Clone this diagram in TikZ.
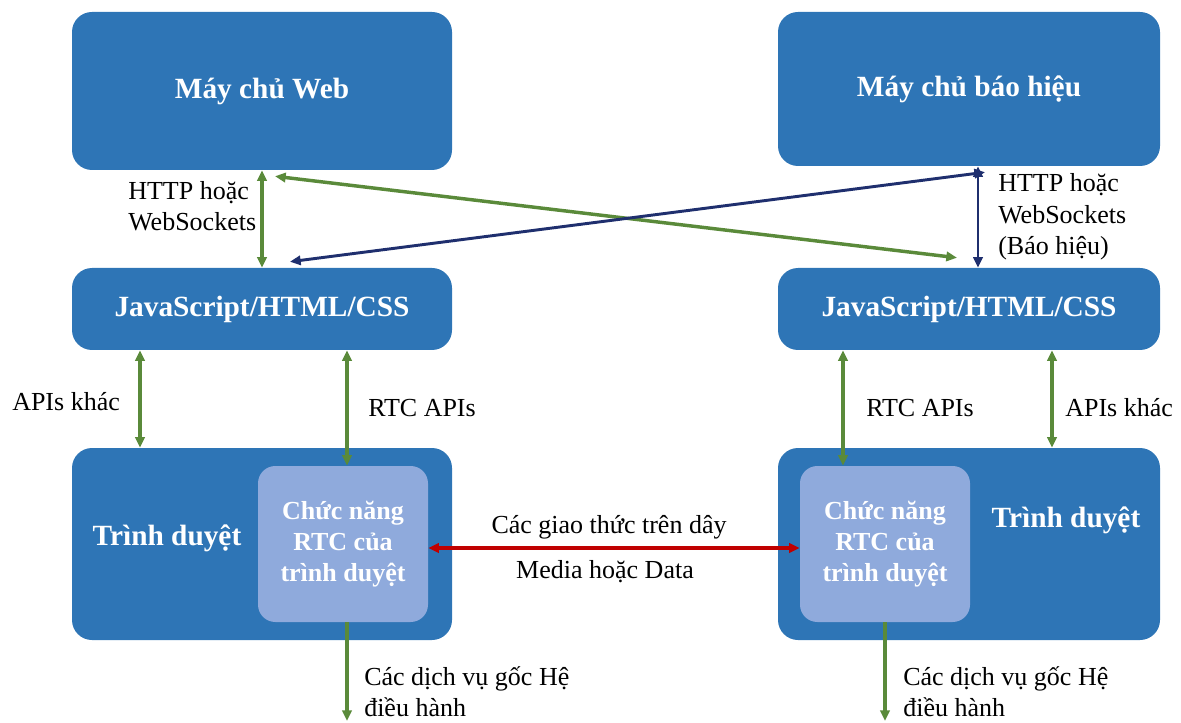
\documentclass[tikz,border=0pt]{standalone}
\usepackage{fontspec}
\setmainfont{Liberation Serif}
\usepackage{xcolor}
\usetikzlibrary{arrows.meta,positioning}
\definecolor{boxblue}{HTML}{2E75B6}
\definecolor{rtcblue}{HTML}{8FAADC}
\definecolor{arrgreen}{HTML}{5A8A3A}
\definecolor{arrnavy}{HTML}{1F2F6E}
\definecolor{arrred}{HTML}{C00000}
\begin{document}
\begin{tikzpicture}[x=0.75pt,y=-0.75pt,>=Triangle,
  box/.style={fill=boxblue,rounded corners=15pt,minimum width=285pt,text=white,font=\fontsize{22}{26}\selectfont\bfseries},
  rtc/.style={fill=rtcblue,rounded corners=13pt,minimum width=127.5pt,minimum height=117pt,align=center,text=white,font=\fontsize{19.5}{23}\selectfont\bfseries},
  ttl/.style={text=white,font=\fontsize{22}{26}\selectfont\bfseries},
  lbl/.style={inner sep=0pt,align=left,font=\fontsize{19.5}{23.5}\selectfont},
  garr/.style={{Triangle[length=8pt,width=7pt]}-{Triangle[length=8pt,width=7pt]},line width=2.6pt,draw=arrgreen},
  narr/.style={{Triangle[length=8pt,width=7pt]}-{Triangle[length=8pt,width=7pt]},line width=2.2pt,draw=arrnavy},
  rarr/.style={{Triangle[length=8pt,width=7pt]}-{Triangle[length=8pt,width=7pt]},line width=2.6pt,draw=arrred},
  darr/.style={-{Triangle[length=8pt,width=7pt]},line width=2.6pt,draw=arrgreen}]
\useasboundingbox (0,0) rectangle (1181,723);
% servers
\node[box,minimum height=118.5pt] (web) at (262,91) {Máy chủ Web};
\node[box,minimum width=286.5pt,minimum height=115.5pt] (sig) at (969,89) {Máy chủ báo hiệu};
% page code
\node[box,minimum height=61.5pt] (jsL) at (262,309) {JavaScript/HTML/CSS};
\node[box,minimum width=286.5pt,minimum height=61.5pt] (jsR) at (969,309) {JavaScript/HTML/CSS};
% browsers
\node[box,minimum height=144pt] (brL) at (262,544) {};
\node[box,minimum width=286.5pt,minimum height=144pt] (brR) at (969,544) {};
\node[ttl] (brLt) at (167,538) {Trình duyệt};
\node[ttl] (brRt) at (1066,520) {Trình duyệt};
\node[rtc] (inL) at (343,544) {Chức năng\\RTC của\\trình duyệt};
\node[rtc] (inR) at (885,544) {Chức năng\\RTC của\\trình duyệt};
\coordinate (osL) at (347,721);
\coordinate (osR) at (885,721);
% connectors
\draw[garr] (web.south) -- (jsL.north);
\draw[garr] ([xshift=9.75pt,yshift=-4.5pt]web.south) -- ([xshift=-9pt,yshift=7.5pt]jsR.north);
\draw[narr] ([xshift=21pt,yshift=4.5pt]jsL.north) -- ([xshift=12pt,yshift=-4.5pt]sig.south);
\draw[narr] ([xshift=6.75pt]sig.south) -- ([xshift=6.75pt]jsR.north);
\draw[garr] ([xshift=-91.5pt]jsL.south) -- ([xshift=-91.5pt]brL.north);
\draw[garr] ([xshift=63.75pt]jsL.south) -- ([xshift=3pt]inL.north);
\draw[garr] ([xshift=-94.5pt]jsR.south) -- ([xshift=-31.5pt]inR.north);
\draw[garr] ([xshift=62.25pt]jsR.south) -- ([xshift=62.25pt]brR.north);
\draw[rarr] ([yshift=-3pt]inL.east) -- ([yshift=-3pt]inR.west);
\draw[darr] ([xshift=3pt]inL.south) -- (osL);
\draw[darr] (inR.south) -- (osR);
% labels
\node[lbl,anchor=west] (httpL) at (128,206) {HTTP hoặc\\WebSockets};
\node[lbl,anchor=west] (httpR) at (998,217) {HTTP hoặc\\WebSockets\\(Báo hiệu)};
\node[lbl,anchor=west] (apiL) at (12,402) {APIs khác};
\node[lbl,anchor=west] (rtcapiL) at (368,408) {RTC APIs};
\node[lbl,anchor=west] (rtcapiR) at (866,408) {RTC APIs};
\node[lbl,anchor=west] (apiR) at (1065,408) {APIs khác};
\node[lbl] (wire) at (609,527) {Các giao thức trên dây};
\node[lbl] (media) at (605,572) {Media hoặc Data};
\node[lbl,anchor=west] (osLt) at (364,692) {Các dịch vụ gốc Hệ\\điều hành};
\node[lbl,anchor=west] (osRt) at (903,692) {Các dịch vụ gốc Hệ\\điều hành};
\end{tikzpicture}
\end{document}
